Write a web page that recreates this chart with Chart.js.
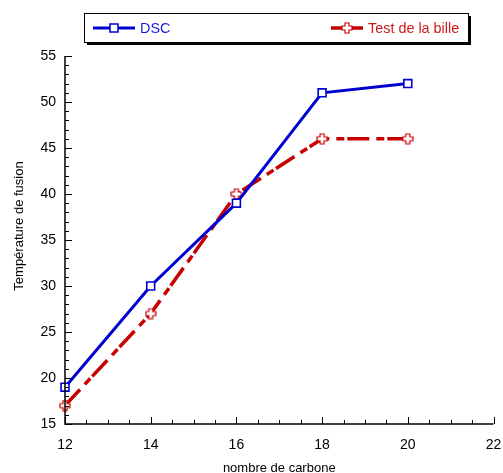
<!DOCTYPE html>
<html>
<head>
<meta charset="utf-8">
<script src="https://cdn.jsdelivr.net/npm/chart.js@4/dist/chart.umd.min.js"></script>
<style>
html,body{margin:0;padding:0;background:#fff;}
#wrap{position:relative;width:503px;height:473px;}
</style>
</head>
<body>
<div id="wrap"><canvas id="c" width="503" height="473"></canvas></div>
<script>
const carbons = [12, 14, 16, 18, 20];
const dscValues = [19, 30, 39, 51, 52];
const billeValues = [17, 27, 40, 46, 46];
const seriesNames = ['DSC', 'Test de la bille'];
const xTitle = 'nombre de carbone';
const yTitle = 'Température de fusion';

const BLUE = '#0000d0';
const RED = '#c80000';
const FONT = '"Liberation Sans", Arial, Helvetica, sans-serif';

function plusMarker() {
  const c = document.createElement('canvas');
  c.width = 12; c.height = 12;
  const g = c.getContext('2d');
  const a = 2, m = 6, e = 5;
  g.beginPath();
  g.moveTo(m - a, m - e); g.lineTo(m + a, m - e); g.lineTo(m + a, m - a);
  g.lineTo(m + e, m - a); g.lineTo(m + e, m + a); g.lineTo(m + a, m + a);
  g.lineTo(m + a, m + e); g.lineTo(m - a, m + e); g.lineTo(m - a, m + a);
  g.lineTo(m - e, m + a); g.lineTo(m - e, m - a); g.lineTo(m - a, m - a);
  g.closePath();
  g.fillStyle = '#fff'; g.fill();
  g.strokeStyle = RED; g.lineWidth = 1.2; g.stroke();
  return c;
}
const plusImg = plusMarker();

const customPlugin = {
  id: 'custom',
  afterDraw(chart) {
    const ctx = chart.ctx;
    const xs = chart.scales.x, ys = chart.scales.y;
    const area = chart.chartArea;
    ctx.save();
    ctx.strokeStyle = '#000';
    ctx.lineWidth = 1;
    for (let v = 15; v <= 55; v += 1) {
      const py = Math.round(ys.getPixelForValue(v)) + 0.5;
      const len = (v % 5 === 0) ? 7 : 4;
      ctx.beginPath(); ctx.moveTo(area.left, py); ctx.lineTo(area.left + len, py); ctx.stroke();
    }
    for (let v = 12; v <= 22.001; v += 0.5) {
      const px = Math.round(xs.getPixelForValue(v)) + 0.5;
      const len = (Math.abs(v % 2) < 0.01) ? 7 : 4;
      ctx.beginPath(); ctx.moveTo(px, area.bottom); ctx.lineTo(px, area.bottom - len); ctx.stroke();
    }
    ctx.lineWidth = 1.5;
    ctx.beginPath();
    ctx.moveTo(area.left, area.top);
    ctx.lineTo(area.left, area.bottom);
    ctx.lineTo(area.right, area.bottom);
    ctx.stroke();

    ctx.save();
    ctx.translate(19, 226);
    ctx.rotate(-Math.PI / 2);
    ctx.fillStyle = '#000';
    ctx.font = '13px ' + FONT;
    ctx.textAlign = 'center';
    ctx.textBaseline = 'middle';
    ctx.fillText(yTitle, 0, 0);
    ctx.restore();

    const L = 84, T = 13, R = 468, B = 42;
    ctx.fillStyle = '#000';
    ctx.fillRect(L + 3, T + 3, R - L, B - T);
    ctx.fillStyle = '#fff';
    ctx.fillRect(L, T, R - L, B - T);
    ctx.lineWidth = 1;
    ctx.strokeStyle = '#000';
    ctx.strokeRect(L + 0.5, T + 0.5, R - L, B - T);
    const ly = 28;
    ctx.strokeStyle = BLUE; ctx.lineWidth = 3;
    ctx.beginPath(); ctx.moveTo(93, ly); ctx.lineTo(135, ly); ctx.stroke();
    ctx.fillStyle = '#fff'; ctx.lineWidth = 1.5;
    ctx.fillRect(110, ly - 4, 8, 8); ctx.strokeRect(110, ly - 4, 8, 8);
    ctx.font = '14.4px ' + FONT;
    ctx.textBaseline = 'middle';
    ctx.textAlign = 'left';
    ctx.fillStyle = '#1a1adf';
    ctx.fillText(seriesNames[0], 140, ly + 1);
    ctx.strokeStyle = RED; ctx.lineWidth = 3.5;
    ctx.beginPath(); ctx.moveTo(331, ly); ctx.lineTo(363, ly); ctx.stroke();
    ctx.drawImage(plusImg, 341, ly - 6);
    ctx.fillStyle = '#cc1a1a';
    ctx.fillText(seriesNames[1], 368, ly + 1);
    ctx.restore();
  }
};

new Chart(document.getElementById('c'), {
  type: 'line',
  data: {
    datasets: [
      {
        label: seriesNames[0],
        data: carbons.map((x, i) => ({ x: x, y: dscValues[i] })),
        borderColor: BLUE,
        borderWidth: 3,
        pointStyle: 'rect',
        pointRadius: 5.6,
        pointBorderWidth: 1.6,
        pointBackgroundColor: '#fff',
        pointBorderColor: BLUE,
        tension: 0
      },
      {
        label: seriesNames[1],
        data: carbons.map((x, i) => ({ x: x, y: billeValues[i] })),
        borderColor: RED,
        borderWidth: 3.5,
        borderDash: [22, 7, 8, 3],
        pointStyle: plusImg,
        pointRadius: 6,
        tension: 0
      }
    ]
  },
  options: {
    responsive: false,
    animation: false,
    clip: false,
    layout: { padding: { top: 56, right: 9, left: 0, bottom: 0 } },
    plugins: { legend: { display: false }, tooltip: { enabled: false } },
    scales: {
      x: {
        type: 'linear', min: 12, max: 22,
        afterFit: s => { s.height = 49; s.paddingLeft = 0; s.paddingRight = 0; },
        grid: { display: false, drawTicks: false },
        border: { display: false },
        ticks: { stepSize: 2, color: '#000', padding: 13, font: { family: FONT, size: 14 }, maxRotation: 0 },
        title: { display: true, text: xTitle, color: '#000', font: { family: FONT, size: 13 }, padding: { top: 3, bottom: -3 } }
      },
      y: {
        type: 'linear', min: 15, max: 55,
        afterFit: s => { s.width = 65; s.paddingTop = 0; s.paddingBottom = 0; },
        grid: { display: false, drawTicks: false },
        border: { display: false },
        ticks: { stepSize: 5, color: '#000', padding: 9, font: { family: FONT, size: 14 } }
      }
    }
  },
  plugins: [customPlugin]
});
</script>
</body>
</html>
